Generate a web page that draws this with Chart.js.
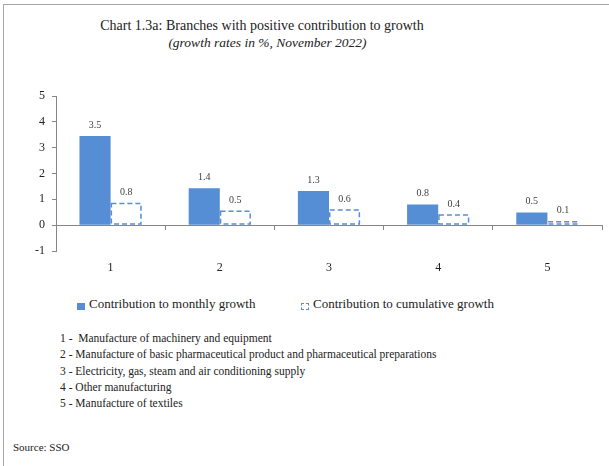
<!DOCTYPE html>
<html>
<head>
<meta charset="utf-8">
<script src="https://cdn.jsdelivr.net/npm/chart.js@4"></script>
<style>
  body { margin: 0; background: #fff; font-family: "Liberation Serif", serif; color: #222; }
  #page { position: relative; width: 609px; height: 466px; overflow: hidden; }
  #frame { position: absolute; left: 3px; top: 4px; right: -5px; bottom: -5px;
           border-left: 1.5px solid #a6a6a6; border-top: 1.5px solid #a6a6a6; }
  .t { position: absolute; white-space: nowrap; }
  #title { left: 0; width: 524px; top: 18px; text-align: center; font-size: 14px; }
  #subtitle { left: 0; width: 535px; top: 35px; text-align: center; font-size: 13.5px; font-style: italic; }
  #wrap { position: absolute; left: 0; top: 80px; width: 609px; height: 200px; }
  .leg { position: absolute; top: 296px; font-size: 13px; }
  .box { position: absolute; width: 8px; height: 7px; top: 7px; }
  #notes { left: 60px; top: 330px; font-size: 11.5px; line-height: 16.3px; }
  #source { left: 13px; top: 441px; font-size: 11px; }
</style>
</head>
<body>
<div id="page">
  <div id="frame"></div>
  <div class="t" id="title">Chart 1.3a: Branches with positive contribution to growth</div>
  <div class="t" id="subtitle">(growth rates in %, November 2022)</div>
  <div id="wrap"><canvas id="grafico" width="609" height="200"></canvas></div>
  <div class="t leg" style="left:77px"><span class="box" style="left:0;background:#558ed5"></span><span style="margin-left:12px">Contribution to monthly growth</span></div>
  <div class="t leg" style="left:301px"><span class="box" style="left:0;width:6px;height:5px;border:1.2px dashed #558ed5"></span><span style="margin-left:12px">Contribution to cumulative growth</span></div>
  <div class="t" id="notes">
    1 -&nbsp; Manufacture of machinery and equipment<br>
    2 - Manufacture of basic pharmaceutical product and pharmaceutical preparations<br>
    3 - Electricity, gas, steam and air conditioning supply<br>
    4 - Other manufacturing<br>
    5 - Manufacture of textiles
  </div>
  <div class="t" id="source">Source: SSO</div>
</div>
<script>
const categorias = ["1", "2", "3", "4", "5"];
const mensal = [3.45, 1.43, 1.32, 0.80, 0.49];
const acumulado = [0.84, 0.54, 0.59, 0.39, 0.13];
const ticksY = [-1, 0, 1, 2, 3, 4, 5];

const azul = "#558ed5";
const cinza = "#868686";

// borda tracejada das barras de crescimento acumulado
const tracejado = {
  id: "tracejado",
  afterDatasetsDraw(chart) {
    const ctx = chart.ctx;
    const meta = chart.getDatasetMeta(1);
    ctx.save();
    ctx.strokeStyle = azul;
    ctx.lineWidth = 1.5;
    ctx.setLineDash([5, 3]);
    meta.data.forEach(b => {
      const left = b.x - b.width / 2;
      ctx.strokeRect(left + 0.75, b.y, b.width - 1.5, b.base - b.y - 0.75);
    });
    ctx.restore();
  }
};

// valores acima das barras
const rotulos = {
  id: "rotulos",
  afterDatasetsDraw(chart) {
    const ctx = chart.ctx;
    ctx.save();
    ctx.font = "10px 'Liberation Serif', serif";
    ctx.fillStyle = "#404040";
    ctx.textAlign = "center";
    ctx.textBaseline = "middle";
    chart.data.datasets.forEach((ds, i) => {
      chart.getDatasetMeta(i).data.forEach((b, j) => {
        ctx.fillText(ds.data[j].toFixed(1), b.x, b.y - 11);
      });
    });
    ctx.restore();
  }
};

new Chart(document.getElementById("grafico"), {
  type: "bar",
  data: {
    labels: categorias,
    datasets: [
      { label: "Contribution to monthly growth", data: mensal, backgroundColor: azul, borderWidth: 0 },
      { label: "Contribution to cumulative growth", data: acumulado, backgroundColor: "#ffffff", borderWidth: 0 }
    ]
  },
  options: {
    responsive: false,
    animation: false,
    layout: { padding: { top: 16, right: 7, bottom: 29, left: 0 } },
    categoryPercentage: 0.57,
    barPercentage: 1,
    plugins: { legend: { display: false }, tooltip: { enabled: false } },
    scales: {
      x: {
        position: { y: 0 },
        offset: true,
        grid: { drawOnChartArea: false, offset: true, tickLength: 4, color: cinza },
        border: { color: cinza, width: 1 },
        ticks: { padding: 31, color: "#222", font: { family: "'Liberation Serif', serif", size: 12 } }
      },
      y: {
        min: -1,
        max: 5,
        afterFit(scale) { scale.width = 56; },
        afterBuildTicks(scale) { scale.ticks = ticksY.map(v => ({ value: v })); },
        grid: { drawOnChartArea: false, tickLength: 4, color: cinza },
        border: { color: cinza, width: 1 },
        ticks: { padding: 7, color: "#222", font: { family: "'Liberation Serif', serif", size: 12 } }
      }
    }
  },
  plugins: [tracejado, rotulos]
});
</script>
</body>
</html>
